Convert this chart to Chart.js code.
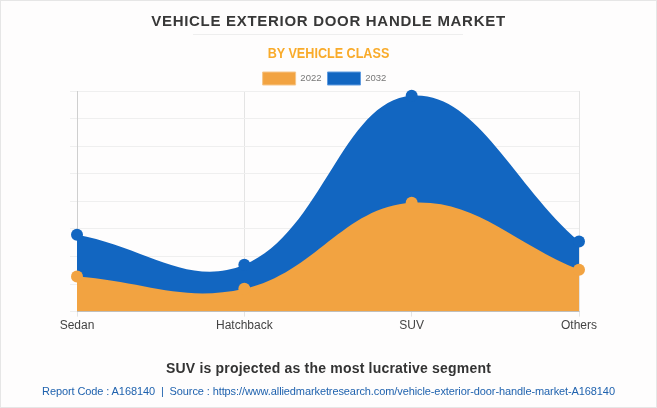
<!DOCTYPE html>
<html>
<head>
<meta charset="utf-8">
<script src="https://cdn.jsdelivr.net/npm/chart.js@4"></script>
<style>
html, body { margin: 0; padding: 0; background: #fefdfd; }
#box { position: absolute; left: 0; top: 0; width: 655px; height: 406px; border: 1px solid #e6e6e6; overflow: hidden; font-family: "Liberation Sans", Arial, sans-serif; }
#box div { position: absolute; left: 0; width: 655px; text-align: center; white-space: nowrap; }
#title { top: 11px; font-size: 15px; font-weight: bold; letter-spacing: .7px; color: #383838; }
#rule { top: 33px; left: 192px !important; width: 270px !important; height: 1px; background: #eeeeee; }
#sub { top: 44px; font-size: 14px; line-height: 16px; font-weight: bold; transform: scaleX(.9); color: #f9ab2a; }
#note { top: 359px; font-size: 14px; font-weight: bold; letter-spacing: .2px; color: #333; }
#src { top: 384px; font-size: 11px; letter-spacing: -.1px; color: #1f62ae; }
canvas { position: absolute; left: 0; top: 0; }
</style>
</head>
<body>
<div id="box">
  <canvas id="area" width="655" height="406"></canvas>
  <div id="title">VEHICLE EXTERIOR DOOR HANDLE MARKET</div>
  <div id="rule"></div>
  <div id="sub">BY VEHICLE CLASS</div>
  <div id="note">SUV is projected as the most lucrative segment</div>
  <div id="src">Report Code : A168140 &nbsp;|&nbsp; Source : https://www.alliedmarketresearch.com/vehicle-exterior-door-handle-market-A168140</div>
</div>
<script>
const categories = ['Sedan', 'Hatchback', 'SUV', 'Others'];
const values2022 = [1.27, 0.83, 3.95, 1.52];
const values2032 = [2.79, 1.70, 7.83, 2.54];
const orange = '#f2a341';
const blue = '#1266c1';

const ctx = document.getElementById('area').getContext('2d');

// legend sits closer to the plot than chart.js leaves by default
const tightLegend = {
    id: 'tightLegend',
    beforeInit: function (chart) {
        const fit = chart.legend.fit;
        chart.legend.fit = function () {
            fit.call(this);
            this.height -= 4;
        };
    }
};

new Chart(ctx, {
    type: 'line',
    plugins: [tightLegend],
    data: {
        labels: categories,
        datasets: [{
            label: '2022',
            data: values2022,
            backgroundColor: orange,
            borderColor: orange,
            borderWidth: 0,
            pointBackgroundColor: orange,
            pointRadius: 6,
            fill: 'origin',
            tension: 0.4,
            clip: false,
            order: 1
        }, {
            label: '2032',
            data: values2032,
            backgroundColor: blue,
            borderColor: blue,
            borderWidth: 0,
            pointBackgroundColor: blue,
            pointRadius: 6,
            fill: 'origin',
            tension: 0.4,
            clip: false,
            order: 2
        }]
    },
    options: {
        responsive: false,
        animation: false,
        layout: { padding: { left: 69, right: 77, top: 65, bottom: 72 } },
        plugins: {
            tooltip: { enabled: false },
            legend: {
                labels: {
                    boxWidth: 33,
                    boxHeight: 13,
                    padding: 6,
                    color: '#777',
                    font: { family: '"Liberation Sans"', size: 9.5 },
                    generateLabels: function (chart) {
                        return chart.data.datasets.map(function (ds, i) {
                            return {
                                text: ds.label,
                                fillStyle: ds.backgroundColor,
                                strokeStyle: i == 0 ? '#f7c68a' : '#5f9be0',
                                lineWidth: 1,
                                fontColor: '#777',
                                datasetIndex: i
                            };
                        });
                    }
                }
            }
        },
        scales: {
            x: {
                grid: { color: '#e4e4e4', tickLength: 5 },
                border: { color: '#cfcfcf' },
                ticks: { color: '#444', padding: 2, maxRotation: 0, font: { family: '"Liberation Sans"', size: 12 } }
            },
            y: {
                min: 0,
                max: 8,
                afterFit: function (axis) { axis.width = 7; },
                grid: { color: '#efefef', tickLength: 7 },
                border: { color: '#cfcfcf' },
                ticks: { stepSize: 1, display: false }
            }
        }
    }
});
</script>
</body>
</html>
